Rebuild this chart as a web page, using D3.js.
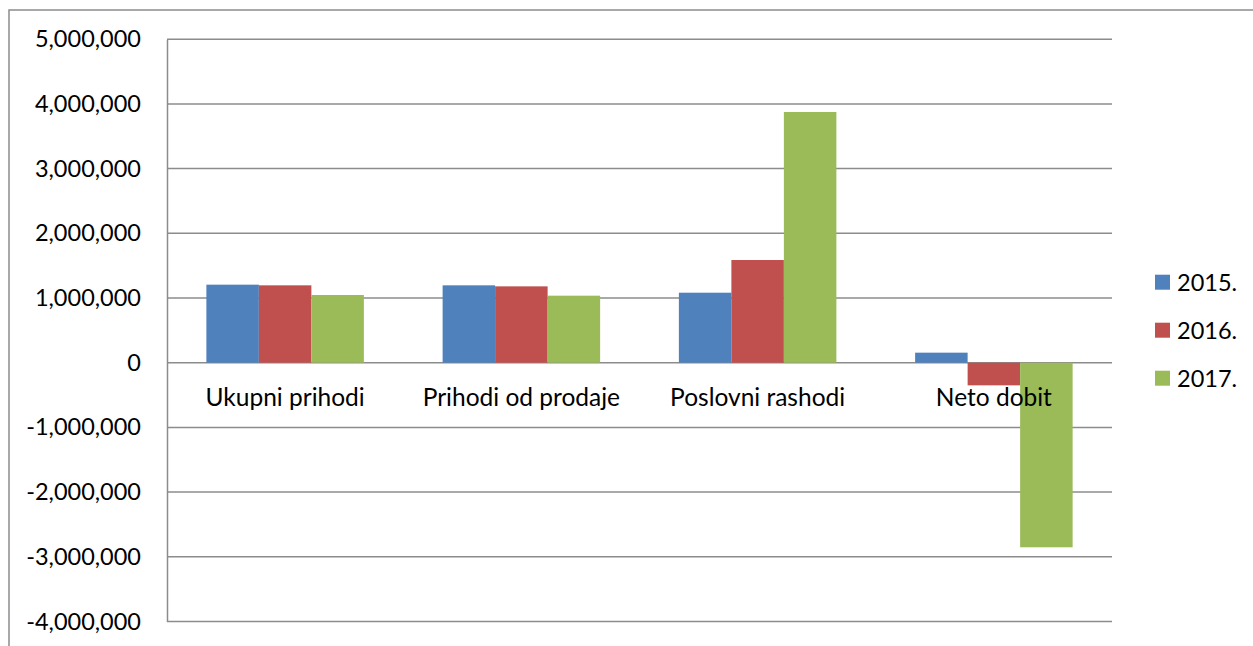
<!DOCTYPE html>
<html>
<head>
<meta charset="utf-8">
<script src="https://cdn.jsdelivr.net/npm/d3@7"></script>
<style>
  body { margin: 0; background: #fff; }
  text { font-family: Lato, "Open Sans", sans-serif; fill: #000; }
</style>
</head>
<body>
<svg width="1253" height="646"></svg>
<script>
let categories = ["Ukupni prihodi", "Prihodi od prodaje", "Poslovni rashodi", "Neto dobit"]
let years = ["2015.", "2016.", "2017."]
let values2015 = [1206000, 1196000, 1082000, 155000]
let values2016 = [1196000, 1180000, 1587000, -350000]
let values2017 = [1046000, 1036000, 3875000, -2853000]
let yTicks = [5000000, 4000000, 3000000, 2000000, 1000000, 0, -1000000, -2000000, -3000000, -4000000]
let colors = ["#4f81bd", "#c0504d", "#9bbb59"]

let series = [values2015, values2016, values2017]

let svg = d3.select("svg")

// outer chart frame (only left and top visible)
svg.append("path")
  .attr("d", "M9,646 L9,10 L1253,10")
  .attr("fill", "none")
  .attr("stroke", "#8c8c8c")
  .attr("stroke-width", 1.5)

let left = 167, right = 1112
let y = d3.scaleLinear().domain([-4000000, 5000000]).range([621.5, 39.2])
let x0 = d3.scaleBand().domain(categories).range([left, right]).paddingInner(1 / 3).paddingOuter(1 / 6)
let x1 = d3.scaleBand().domain(d3.range(years.length)).range([0, x0.bandwidth()])

// gridlines
svg.append("g").selectAll("line")
  .data(yTicks)
  .join("line")
  .attr("x1", left).attr("x2", right)
  .attr("y1", d => y(d)).attr("y2", d => y(d))
  .attr("stroke", "#8c8c8c")
  .attr("stroke-width", 1.5)

// y axis
let fmt = d3.format(",")
let yAxis = d3.axisLeft(y).tickValues(yTicks).tickSize(0).tickPadding(26)
  .tickFormat(d => fmt(d).replace("\u2212", "-"))
let ya = svg.append("g").attr("transform", `translate(${left},0)`).call(yAxis)
ya.select(".domain").attr("stroke", "#8c8c8c").attr("stroke-width", 1.5)
ya.selectAll("text").attr("font-size", 23.5).attr("font-family", "Lato, sans-serif").attr("fill", "#000")

// bars
series.forEach(function(vals, i) {
  svg.append("g").selectAll("rect")
    .data(vals)
    .join("rect")
    .attr("x", (d, j) => x0(categories[j]) + x1(i))
    .attr("width", x1.bandwidth())
    .attr("y", d => y(Math.max(0, d)))
    .attr("height", d => Math.abs(y(d) - y(0)))
    .attr("fill", colors[i])
})

// category labels
svg.append("g").selectAll("text")
  .data(categories)
  .join("text")
  .attr("x", d => x0(d) + x0.bandwidth() / 2)
  .attr("y", y(0) + 43)
  .attr("text-anchor", "middle")
  .attr("font-size", 24.5)
  .text(d => d)

// legend
let legend = svg.append("g").selectAll("g")
  .data(years)
  .join("g")
  .attr("transform", (d, i) => `translate(1155,${274.7 + i * 48})`)
legend.append("rect").attr("width", 15).attr("height", 15).attr("fill", (d, i) => colors[i])
legend.append("text").attr("x", 22).attr("y", 16).attr("font-size", 23.5).text(d => d)
</script>
</body>
</html>
